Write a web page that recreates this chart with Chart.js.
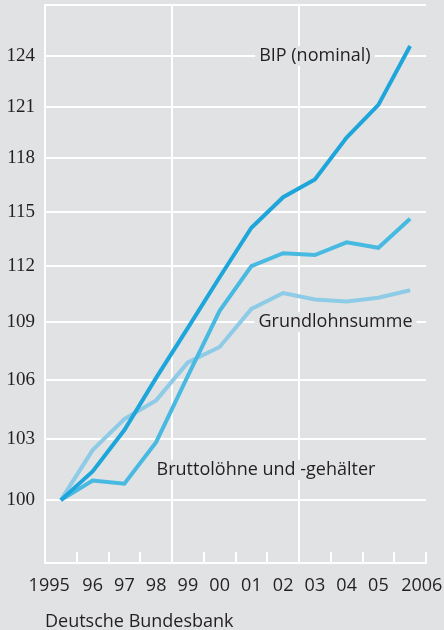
<!DOCTYPE html>
<html>
<head>
<meta charset="utf-8">
<script src="https://cdn.jsdelivr.net/npm/chart.js@4.4.1/dist/chart.umd.min.js"></script>
<style>
  html, body { margin: 0; padding: 0; background: #e1e2e4; }
  #wrap { width: 444px; height: 630px; position: relative; }
</style>
</head>
<body>
<div id="wrap"><canvas id="chart"></canvas></div>
<script>
// 1995 = 100
const years = ['1995', '1996', '1997', '1998', '1999', '2000', '2001', '2002', '2003', '2004', '2005', '2006'];
const yearLabels = ['1995', '96', '97', '98', '99', '00', '01', '02', '03', '04', '05', '2006'];
const bip = [100, 101.4, 103.45, 106.1, 108.7, 111.4, 114.1, 115.8, 116.8, 119.2, 121.1, 124.6];
const brutto = [100, 100.95, 100.8, 102.85, 106.2, 109.6, 112.0, 112.7, 112.6, 113.3, 113.0, 114.6];
const grundlohn = [100, 102.45, 104.0, 104.95, 106.9, 107.7, 109.7, 110.55, 110.2, 110.1, 110.3, 110.7];
const yTicks = [100, 103, 106, 109, 112, 115, 118, 121, 124];

// series names written inside the plot (x = category index, y = value)
const seriesNotes = [
    { text: 'BIP (nominal)', x: 8, y: 124 },
    { text: 'Grundlohnsumme', x: 8.65, y: 109 },
    { text: 'Bruttolöhne und -gehälter', x: 6.46, y: 101.46 },
];

const BG = '#e1e2e4';
const INK = '#231f20';

const notesPlugin = {
    id: 'notes',
    beforeDatasetsDraw(chart) {
        const ctx = chart.ctx;
        const xs = chart.scales.x, ys = chart.scales.y;
        ctx.save();
        ctx.font = '18px "Open Sans"';
        ctx.textAlign = 'center';
        ctx.textBaseline = 'middle';
        seriesNotes.forEach(n => {
            const px = xs.getPixelForValue(n.x);
            const py = ys.getPixelForValue(n.y);
            const w = ctx.measureText(n.text).width;
            ctx.fillStyle = BG;
            ctx.fillRect(px - w / 2 - 4, py - 10, w + 8, 20);
            ctx.fillStyle = INK;
            ctx.fillText(n.text, px, py);
        });
        ctx.restore();
    }
};

const ctx = document.getElementById('chart').getContext('2d');
const chart = new Chart(ctx, {
    type: 'line',
    data: {
        labels: years,
        datasets: [
            { label: 'BIP (nominal)', data: bip, borderColor: '#1ea6db' },
            { label: 'Bruttolöhne und -gehälter', data: brutto, borderColor: '#48b9e1' },
            { label: 'Grundlohnsumme', data: grundlohn, borderColor: '#8dcbe6' },
        ]
    },
    options: {
        responsive: true,
        maintainAspectRatio: false,
        animation: false,
        layout: { padding: { top: 5, right: 18, left: 0, bottom: 0 } },
        elements: {
            line: { borderWidth: 4, tension: 0, borderJoinStyle: 'miter', fill: false },
            point: { radius: 0, hoverRadius: 0 }
        },
        plugins: {
            legend: { display: false },
            tooltip: { enabled: false }
        },
        scales: {
            x: {
                offset: true,
                afterFit: s => {
                    s.height = 67;
                    s.paddingLeft = 0;
                    s.paddingRight = 0;
                },
                grid: {
                    offset: true,
                    lineWidth: 2,
                    color: c => [0, 4, 8, 12].includes(c.index) ? '#ffffff' : 'rgba(0,0,0,0)',
                    tickColor: '#ffffff',
                    tickLength: -11,
                    tickWidth: 2
                },
                border: { display: true, color: '#ffffff', width: 2 },
                ticks: {
                    autoSkip: false,
                    maxRotation: 0,
                    padding: 23,
                    color: INK,
                    font: { family: 'Open Sans', size: 18 },
                    callback: (v, i) => {
                        if (i === 0) return yearLabels[i] + '     ';
                        if (i === yearLabels.length - 1) return '     ' + yearLabels[i];
                        return yearLabels[i];
                    }
                },
                title: {
                    display: true,
                    text: 'Deutsche Bundesbank',
                    align: 'start',
                    color: INK,
                    font: { family: 'Open Sans', size: 18, lineHeight: 0.85 },
                    padding: { top: 0, bottom: 0 }
                }
            },
            y: {
                type: 'logarithmic',
                min: 97,
                max: 127.1,
                afterFit: s => {
                    s.width = 45;
                    s.paddingTop = 0;
                    s.paddingBottom = 0;
                },
                afterBuildTicks: s => {
                    s.ticks = yTicks.concat([127.1]).map(v => ({ value: v }));
                },
                grid: { color: '#ffffff', lineWidth: 2, drawTicks: false },
                border: { display: true, color: '#ffffff', width: 2 },
                ticks: {
                    padding: 10,
                    color: INK,
                    font: { family: 'Liberation Sans Narrow', size: 19 },
                    callback: v => yTicks.includes(v) ? String(v) : ''
                }
            }
        }
    },
    plugins: [notesPlugin]
});
</script>
</body>
</html>
